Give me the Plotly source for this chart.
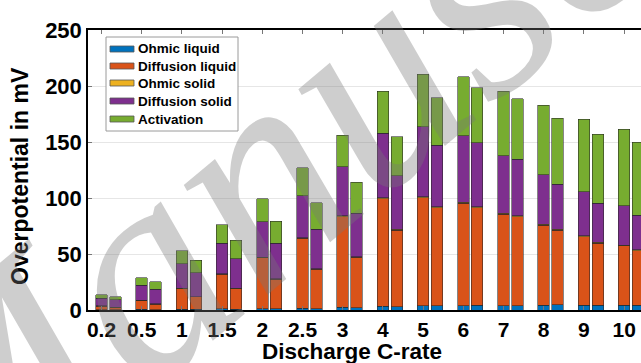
import plotly.graph_objects as go

# ---------------- data ----------------
c_rates = ["0.2", "0.5", "1", "1.5", "2", "2.5", "3", "4", "5", "6", "7", "8", "9", "10"]
series_names = ["Ohmic liquid", "Diffusion liquid", "Ohmic solid", "Diffusion solid", "Activation"]

# first bar of each pair
ohmic_liquid_a = [0.3, 0.5, 0.8, 1.0, 1.2, 1.5, 2.4, 3.2, 3.6, 3.6, 3.6, 4.2, 4.2, 4.2]
diffusion_liquid_a = [3.2, 8.2, 18.2, 31.1, 45.4, 62.6, 81.0, 96.3, 96.8, 91.7, 81.9, 71.5, 61.4, 53.0]
ohmic_solid_a = [0.1, 0.2, 0.3, 0.3, 0.4, 0.5, 0.6, 0.8, 0.8, 0.8, 0.8, 0.8, 0.8, 0.8]
diffusion_solid_a = [6.8, 13.4, 21.8, 27.1, 31.9, 37.4, 44.0, 57.4, 62.5, 59.3, 51.5, 44.3, 39.3, 35.2]
activation_a = [3.0, 6.6, 11.6, 16.7, 20.5, 25.0, 28.0, 37.8, 47.0, 52.9, 57.7, 61.9, 64.8, 68.4]

# second bar of each pair
ohmic_liquid_b = [0.2, 0.4, 0.6, 0.8, 1.0, 1.3, 1.8, 3.0, 3.6, 4.2, 3.6, 4.8, 4.2, 4.2]
diffusion_liquid_b = [2.0, 4.8, 11.1, 18.4, 26.4, 35.2, 45.3, 68.3, 87.9, 87.3, 79.8, 66.4, 55.4, 48.6]
ohmic_solid_b = [0.1, 0.2, 0.2, 0.3, 0.3, 0.4, 0.5, 0.7, 0.8, 0.8, 0.8, 0.8, 0.8, 0.8]
diffusion_solid_b = [6.9, 13.2, 21.4, 26.3, 31.8, 35.4, 38.7, 48.0, 55.0, 57.1, 50.6, 40.5, 34.8, 31.2]
activation_b = [2.7, 6.7, 11.3, 16.4, 19.7, 23.5, 27.7, 34.8, 42.3, 49.1, 53.9, 58.6, 61.9, 64.9]

y_ticks = [0, 50, 100, 150, 200, 250]
watermark_text = "Manuscript"

# ---------------- styling ----------------
colors = ["#0072BD", "#D95319", "#EDB120", "#7E2F8E", "#77AC30"]
W, H = 641, 363
L, R, T, B = 88, 641, 30, 310
pair_offset = 0.345
bar_width = 0.286
x_range = [-0.336, 13.42]

def px_x(p):
    return (p - L) / (R - L)

def px_y(p):
    return (B - p) / (B - T)

pos_a = list(range(len(c_rates)))
pos_b = [p + pair_offset for p in pos_a]

series_a = [ohmic_liquid_a, diffusion_liquid_a, ohmic_solid_a, diffusion_solid_a, activation_a]
series_b = [ohmic_liquid_b, diffusion_liquid_b, ohmic_solid_b, diffusion_solid_b, activation_b]

fig = go.Figure()
for name, col, va, vb in zip(series_names, colors, series_a, series_b):
    fig.add_trace(go.Bar(
        x=pos_a + pos_b, y=va + vb, name=name, width=bar_width,
        marker=dict(color=col, line=dict(color="rgba(40,40,40,0.7)", width=0.8)),
        showlegend=False,
    ))

font_fam = "Liberation Sans, Arial, sans-serif"

fig.update_layout(
    width=W, height=H, barmode="stack",
    margin=dict(l=L, r=W - R, t=T, b=H - B),
    paper_bgcolor="white", plot_bgcolor="white",
    font=dict(family=font_fam, color="black"),
    xaxis=dict(
        range=x_range, tickmode="array", tickvals=pos_a, ticktext=c_rates,
        showgrid=False, zeroline=False,
        showline=True, linecolor="black", linewidth=1.5, mirror="ticks",
        ticks="inside", ticklen=4, tickcolor="#777",
        tickfont=dict(size=21, family=font_fam, weight="bold"),
    ),
    yaxis=dict(
        range=[0, 250], tickmode="array", tickvals=y_ticks,
        showgrid=True, gridcolor="#e6e6e6", gridwidth=1, zeroline=False,
        showline=True, linecolor="black", linewidth=1.5,
        ticks="inside", ticklen=4, tickcolor="#777",
        tickfont=dict(size=22, family=font_fam, weight="bold"),
    ),
)

# axis titles
fig.add_annotation(text="Discharge C-rate", xref="paper", yref="paper",
                   x=px_x(352), y=px_y(351), showarrow=False,
                   xanchor="center", yanchor="middle",
                   font=dict(size=22.5, family=font_fam, weight="bold"))
fig.add_annotation(text="Overpotential in mV", xref="paper", yref="paper",
                   x=px_x(20), y=px_y(176), showarrow=False, textangle=-90,
                   xanchor="center", yanchor="middle",
                   font=dict(size=23, family=font_fam, weight="bold"))

# legend box (manual)
fig.add_shape(type="rect", xref="paper", yref="paper",
              x0=px_x(106), x1=px_x(238), y0=px_y(131), y1=px_y(37),
              fillcolor="white", line=dict(color="#9a9a9a", width=1), layer="above")
leg_y = [49, 66, 83, 101, 119]
for name, col, yy in zip(series_names, colors, leg_y):
    fig.add_shape(type="rect", xref="paper", yref="paper",
                  x0=px_x(110), x1=px_x(134), y0=px_y(yy + 3), y1=px_y(yy - 3),
                  fillcolor=col, line=dict(color="#555", width=0.8), layer="above")
    fig.add_annotation(text=name, xref="paper", yref="paper",
                       x=px_x(136), y=px_y(yy), showarrow=False,
                       xanchor="left", yanchor="middle",
                       font=dict(size=13.5, family=font_fam, weight="bold"))

# faint diagonal watermark (as in the reference image)
fig.add_annotation(text=watermark_text, xref="paper", yref="paper",
                   x=px_x(420), y=px_y(35), showarrow=False, textangle=-40,
                   xanchor="center", yanchor="middle",
                   font=dict(size=300, family="Liberation Serif, serif",
                             style="italic", color="rgba(120,120,120,0.36)"))

fig.write_html("out.html")
